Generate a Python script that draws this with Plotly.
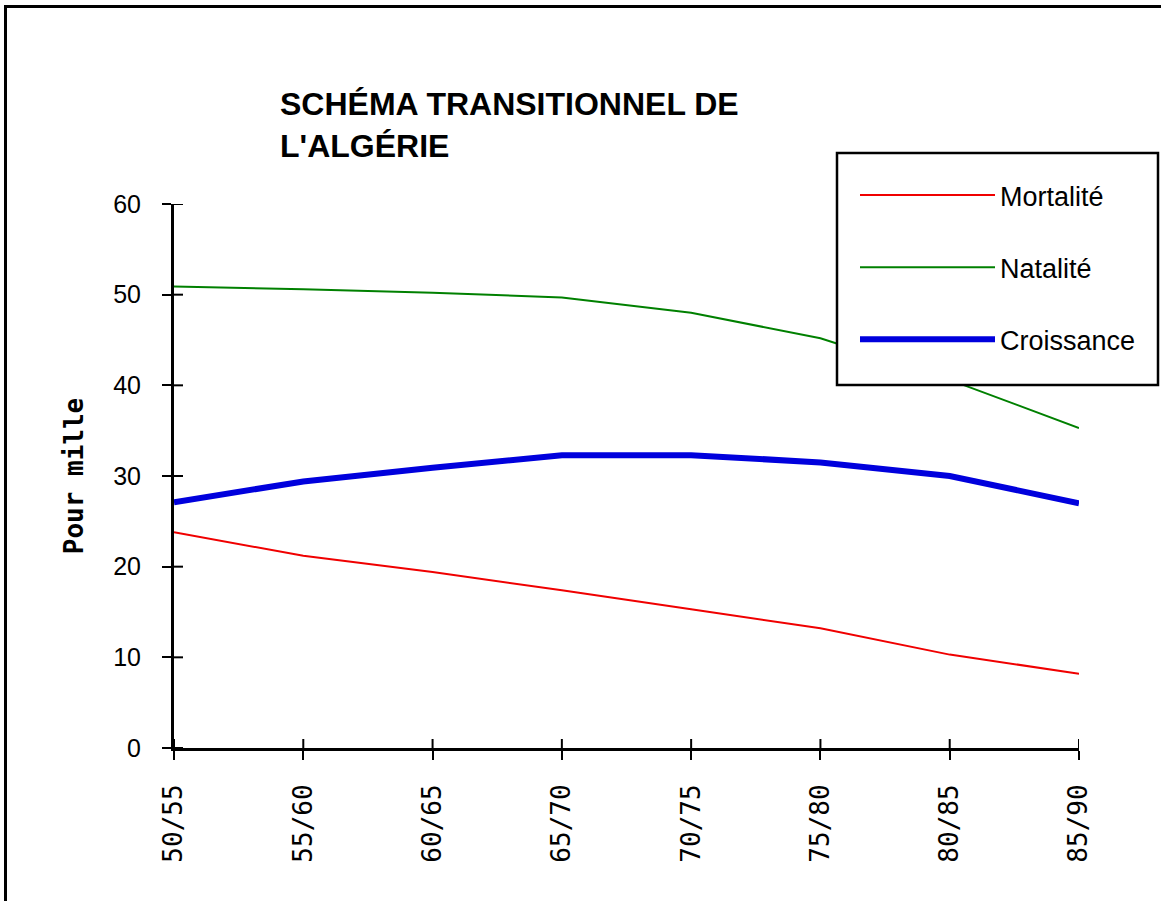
import plotly.graph_objects as go

periods = ["50/55", "55/60", "60/65", "65/70", "70/75", "75/80", "80/85", "85/90"]
mortalite = [23.8, 21.2, 19.4, 17.4, 15.3, 13.2, 10.3, 8.2]
natalite = [50.9, 50.6, 50.2, 49.7, 48.0, 45.2, 40.6, 35.3]
croissance = [27.1, 29.4, 30.9, 32.3, 32.3, 31.5, 30.0, 27.0]
y_ticks = [0, 10, 20, 30, 40, 50, 60]

W, H = 1161, 901
L, R, T, B = 174, 82, 204, 153
pw, ph = W - L - R, H - T - B
TICK = 9

def px_x(p):
    return (p - L) / pw

def px_y(p):
    return (H - B - p) / ph

fig = go.Figure()
fig.add_trace(go.Scatter(x=periods, y=mortalite, mode="lines", name="Mortalité",
                         line=dict(color="#f00000", width=2), legendgroup="a"))
fig.add_trace(go.Scatter(x=periods, y=natalite, mode="lines", name="Natalité",
                         line=dict(color="#008000", width=2), legendgroup="b"))
fig.add_trace(go.Scatter(x=periods, y=croissance, mode="lines", name="Croissance",
                         line=dict(color="#0000dd", width=6), legendgroup="c"))

# inner half of the crossing tick marks
shapes = []
for v in y_ticks:
    shapes.append(dict(type="line", xref="x domain", yref="y", x0=0, x1=TICK / pw,
                       y0=v, y1=v, line=dict(color="black", width=2), layer="above"))
for c in periods:
    shapes.append(dict(type="line", xref="x", yref="y domain", x0=c, x1=c,
                       y0=0, y1=TICK / ph, line=dict(color="black", width=2), layer="above"))
shapes += [
    dict(type="rect", xref="paper", yref="paper",
         x0=px_x(5.5), x1=px_x(1175), y0=px_y(915), y1=px_y(6.5),
         line=dict(color="black", width=3), fillcolor="rgba(0,0,0,0)", layer="above"),
    dict(type="rect", xref="paper", yref="paper",
         x0=px_x(837), x1=px_x(1158), y0=px_y(385), y1=px_y(153),
         line=dict(color="black", width=2.5), fillcolor="white", layer="above"),
]

fig.update_layout(
    width=W, height=H,
    margin=dict(l=L, r=R, t=T, b=B),
    paper_bgcolor="white", plot_bgcolor="white",
    showlegend=True,
    font=dict(family="Liberation Sans, Arial, sans-serif", color="black"),
    xaxis=dict(type="category", range=[0, 7], showgrid=False, zeroline=False,
               showline=True, linecolor="black", linewidth=3,
               ticks="outside", ticklen=TICK, tickwidth=2, tickcolor="black",
               tickangle=-90, ticklabelstandoff=14,
               tickfont=dict(family="DejaVu Sans Mono", size=26, color="black")),
    yaxis=dict(range=[0, 60], tickvals=y_ticks, showgrid=False, zeroline=False,
               showline=True, linecolor="black", linewidth=3,
               ticks="outside", ticklen=TICK, tickwidth=2, tickcolor="black",
               ticklabelstandoff=16,
               tickfont=dict(size=25, color="black"),
               title=dict(text="<b>Pour mille</b>", standoff=23,
                          font=dict(family="DejaVu Sans Mono", size=26, color="black"))),
    legend=dict(x=px_x(855), y=px_y(171), xanchor="left", yanchor="top",
                bgcolor="rgba(0,0,0,0)", borderwidth=0,
                traceorder="grouped", tracegroupgap=34, itemwidth=135,
                font=dict(size=27, color="black")),
    annotations=[
        dict(text="<b>SCHÉMA TRANSITIONNEL DE</b>", xref="paper", yref="paper",
             x=px_x(278), y=px_y(104), xanchor="left", yanchor="middle",
             showarrow=False, font=dict(size=32, color="black")),
        dict(text="<b>L'ALGÉRIE</b>", xref="paper", yref="paper",
             x=px_x(278), y=px_y(146), xanchor="left", yanchor="middle",
             showarrow=False, font=dict(size=32, color="black")),
    ],
    shapes=shapes,
)

fig.write_html("out.html", config={"displayModeBar": False},
               post_script="document.body.style.margin='0';document.body.style.overflow='hidden';")
